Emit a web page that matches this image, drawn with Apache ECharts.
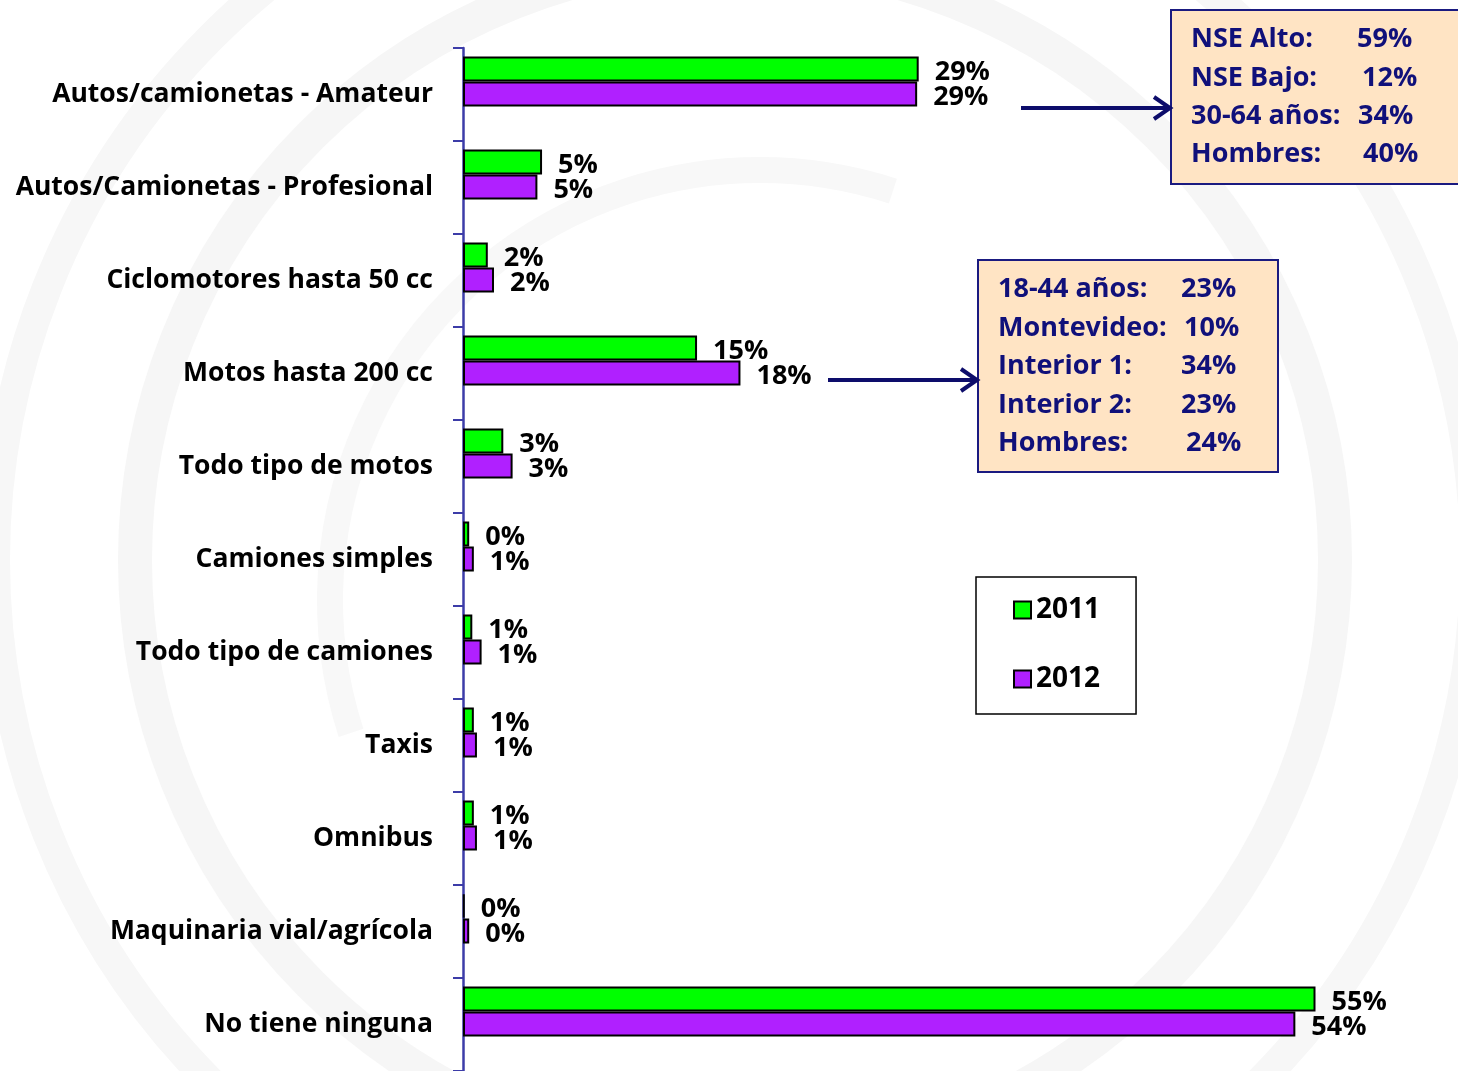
<!DOCTYPE html>
<html>
<head>
<meta charset="utf-8">
<script src="https://cdn.jsdelivr.net/npm/echarts@6/dist/echarts.min.js"></script>
<style>
  html, body { margin: 0; padding: 0; background: #fff; }
  #chart { width: 1458px; height: 1071px; }
</style>
</head>
<body>
<div id="chart"></div>
<script>
  // datos
  var categorias = ['Autos/camionetas - Amateur', 'Autos/Camionetas - Profesional', 'Ciclomotores hasta 50 cc',
    'Motos hasta 200 cc', 'Todo tipo de motos', 'Camiones simples', 'Todo tipo de camiones', 'Taxis',
    'Omnibus', 'Maquinaria vial/agrícola', 'No tiene ninguna'];
  var serie2011 = [29.4, 5.1, 1.6, 15.1, 2.6, 0.4, 0.6, 0.7, 0.7, 0.1, 55.0];
  var serie2012 = [29.3, 4.8, 2.0, 17.9, 3.2, 0.7, 1.2, 0.9, 0.9, 0.4, 53.7];

  var cuadro1Etiquetas = ['NSE Alto:', 'NSE Bajo:', '30-64 años:', 'Hombres:'];
  var cuadro1Valores = ['59%', '12%', '34%', '40%'];
  var cuadro2Etiquetas = ['18-44 años:', 'Montevideo:', 'Interior 1:', 'Interior 2:', 'Hombres:'];
  var cuadro2Valores = ['23%', '10%', '34%', '23%', '24%'];

  var FONT = '"Open Sans"';
  var NAVY = '#10107a';

  var chart = echarts.init(document.getElementById('chart'));

  function textRows(etiquetas, valores, x0, xs, ys) {
    var out = [];
    etiquetas.forEach(function (t, i) {
      out.push({ type: 'text', x: x0, y: ys[i], z: 20,
        style: { text: t, fill: NAVY, font: 'bold 27px ' + FONT, textVerticalAlign: 'middle' } });
      out.push({ type: 'text', x: xs[i], y: ys[i], z: 20,
        style: { text: valores[i], fill: NAVY, font: 'bold 27px ' + FONT, textVerticalAlign: 'middle' } });
    });
    return out;
  }

  function arrow(x1, x2, y) {
    return [
      { type: 'line', z: 20, shape: { x1: x1, y1: y, x2: x2 - 2, y2: y },
        style: { stroke: '#0d0d6b', lineWidth: 4 } },
      { type: 'polyline', z: 20, shape: { points: [[x2 - 16, y - 11], [x2, y], [x2 - 16, y + 11]] },
        style: { stroke: '#0d0d6b', lineWidth: 4, fill: 'none' } }
    ];
  }

  // marca de agua tenue de fondo
  var marca = [
    { type: 'circle', z: -10, shape: { cx: 735, cy: 560, r: 600 }, style: { fill: 'none', stroke: '#f6f6f6', lineWidth: 34 } },
    { type: 'circle', z: -10, shape: { cx: 735, cy: 560, r: 740 }, style: { fill: 'none', stroke: '#f7f7f7', lineWidth: 30 } },
    { type: 'arc', z: -10, shape: { cx: 760, cy: 600, r: 430, startAngle: Math.PI * 0.9, endAngle: Math.PI * 1.6 },
      style: { fill: 'none', stroke: '#f8f8f8', lineWidth: 26 } }
  ];

  var cuadros = [
    { type: 'rect', z: 15, shape: { x: 1171, y: 10, width: 300, height: 174 },
      style: { fill: '#ffe4c4', stroke: '#1a1a80', lineWidth: 2 } },
    { type: 'rect', z: 15, shape: { x: 978, y: 260, width: 300, height: 212 },
      style: { fill: '#ffe4c4', stroke: '#1a1a80', lineWidth: 2 } }
  ];

  var etiquetaBarra = {
    show: true, position: 'right', distance: 16, offset: [0, 3], color: '#000',
    fontFamily: FONT, fontSize: 27, fontWeight: 'bold',
    formatter: function (p) { return Math.round(p.value) + '%'; }
  };

  var option = {
    backgroundColor: '#fff',
    animation: false,
    color: ['#00ff00', '#b020ff'],
    legend: {
      data: ['2011', '2012'],
      orient: 'vertical',
      left: 976,
      top: 577,
      icon: 'rect',
      itemWidth: 17,
      itemHeight: 17,
      itemGap: 39,
      itemTextGap: 13,
      padding: [18, 36, 20, 37],
      borderColor: '#000',
      borderWidth: 1.5,
      backgroundColor: '#fff',
      textStyle: { fontFamily: FONT, fontSize: 28, fontWeight: 'bold', color: '#000', lineHeight: 30 }
    },
    grid: [
      { left: 463, right: 65, top: 35, height: 1023 },
      { left: 463, right: 65, top: 48, height: 1023 }
    ],
    xAxis: [
      { type: 'value', gridIndex: 0, min: 0, max: 60, show: false },
      { type: 'value', gridIndex: 1, min: 0, max: 60, show: false }
    ],
    yAxis: [
      { type: 'category', gridIndex: 0, data: categorias, inverse: true, show: false },
      {
        type: 'category', gridIndex: 1, data: categorias, inverse: true,
        axisLine: { show: true, lineStyle: { color: '#3c3ca8', width: 2.5 } },
        axisTick: { show: true, length: 10, lineStyle: { color: '#3c3ca8', width: 2 } },
        axisLabel: { margin: 30, padding: [4, 0, 0, 0], color: '#000', fontFamily: FONT, fontSize: 26.5, fontWeight: 'bold' }
      }
    ],
    series: [
      {
        name: '2011', type: 'bar', xAxisIndex: 0, yAxisIndex: 0, data: serie2011,
        barWidth: 25, barGap: '0%',
        itemStyle: { borderColor: '#000', borderWidth: 2 },
        label: etiquetaBarra
      },
      {
        name: '2012', type: 'bar', xAxisIndex: 0, yAxisIndex: 0, data: serie2012,
        barWidth: 25, barGap: '0%',
        itemStyle: { borderColor: '#000', borderWidth: 2 },
        label: etiquetaBarra
      },
      { type: 'bar', xAxisIndex: 1, yAxisIndex: 1, data: [], silent: true }
    ],
    graphic: marca
      .concat(cuadros)
      .concat(textRows(cuadro1Etiquetas, cuadro1Valores, 1191, [1357, 1362, 1358, 1363], [39, 78, 116, 154]))
      .concat(textRows(cuadro2Etiquetas, cuadro2Valores, 998, [1181, 1184, 1181, 1181, 1186], [289, 328, 366, 405, 443]))
      .concat(arrow(1021, 1170, 108))
      .concat(arrow(828, 977, 380))
  };

  chart.setOption(option);
</script>
</body>
</html>
